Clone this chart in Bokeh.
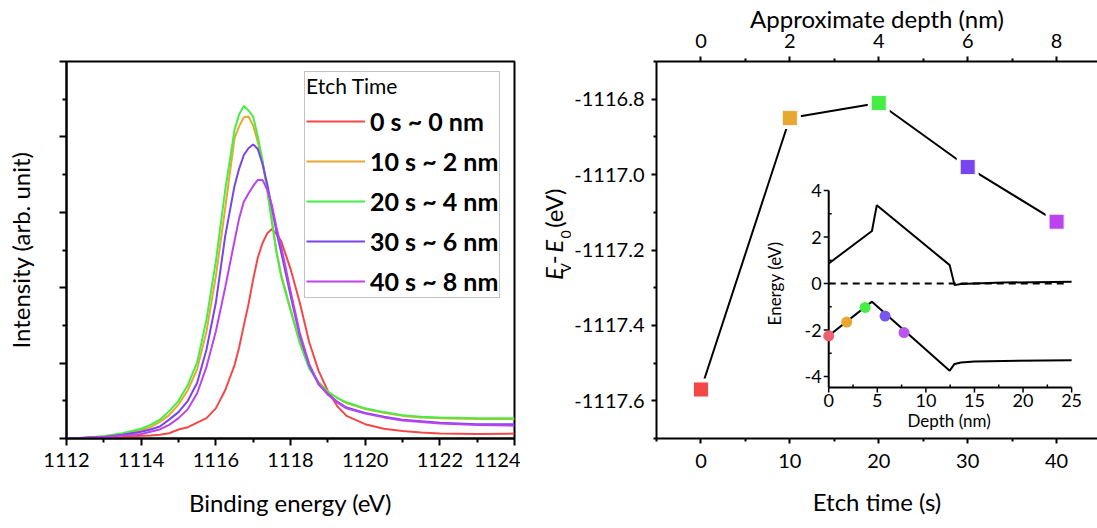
import math
from bokeh.plotting import figure
from bokeh.models import (Range1d, LinearAxis, FixedTicker, Legend, LegendItem,
                          CustomJSTickFormatter)
from bokeh.layouts import row
from bokeh.embed import file_html
from bokeh.resources import INLINE
from bokeh.core.properties import value

FONT = "Lato"

# ---------------- data: XPS spectra (left) ----------------
energy = [1112, 1112.5, 1113, 1113.5, 1114, 1114.25, 1114.5, 1114.75, 1115, 1115.25,
          1115.5, 1115.75, 1116, 1116.25, 1116.5, 1116.625, 1116.75, 1116.875, 1117, 1117.125,
          1117.25, 1117.375, 1117.5, 1117.625, 1117.75, 1118, 1118.25, 1118.5, 1118.75, 1119,
          1119.25, 1119.5, 1120, 1120.5, 1121, 1121.5, 1122, 1123, 1124]
int_0s = [0.00, 0.005, 0.01, 0.02, 0.035, 0.04, 0.05, 0.07, 0.12, 0.15,
          0.21, 0.27, 0.40, 0.64, 0.97, 1.21, 1.50, 1.78, 2.11, 2.40,
          2.59, 2.72, 2.78, 2.71, 2.62, 2.25, 1.80, 1.28, 0.90, 0.63,
          0.43, 0.30, 0.19, 0.13, 0.10, 0.08, 0.065, 0.06, 0.065]
int_10s = [0.00, 0.01, 0.03, 0.06, 0.11, 0.15, 0.22, 0.31, 0.45, 0.64,
           0.92, 1.42, 2.15, 3.05, 3.98, 4.14, 4.26, 4.27, 4.15, 3.93,
           3.67, 3.32, 2.90, 2.48, 2.17, 1.72, 1.28, 0.95, 0.75, 0.62,
           0.54, 0.47, 0.39, 0.34, 0.30, 0.28, 0.27, 0.26, 0.26]
int_20s = [0.00, 0.01, 0.03, 0.07, 0.13, 0.18, 0.25, 0.36, 0.50, 0.71,
           1.01, 1.58, 2.35, 3.29, 4.09, 4.30, 4.41, 4.35, 4.27, 4.00,
           3.69, 3.29, 2.88, 2.47, 2.15, 1.70, 1.26, 0.93, 0.74, 0.62,
           0.54, 0.48, 0.40, 0.35, 0.31, 0.29, 0.28, 0.27, 0.27]
int_30s = [0.00, 0.01, 0.02, 0.05, 0.09, 0.12, 0.16, 0.25, 0.35, 0.50,
           0.74, 1.18, 1.80, 2.68, 3.35, 3.58, 3.76, 3.85, 3.90, 3.84,
           3.64, 3.38, 3.06, 2.74, 2.47, 1.90, 1.36, 0.97, 0.72, 0.59,
           0.49, 0.41, 0.34, 0.29, 0.25, 0.23, 0.21, 0.19, 0.19]
int_40s = [0.00, 0.01, 0.02, 0.04, 0.06, 0.09, 0.12, 0.18, 0.27, 0.39,
           0.60, 0.95, 1.42, 2.00, 2.62, 2.92, 3.14, 3.25, 3.35, 3.43,
           3.43, 3.30, 3.10, 2.80, 2.55, 1.96, 1.40, 0.99, 0.73, 0.58,
           0.48, 0.40, 0.33, 0.28, 0.24, 0.22, 0.20, 0.18, 0.17]
spectra = [int_0s, int_10s, int_20s, int_30s, int_40s]
legend_labels = ["0 s ~ 0 nm", "10 s ~ 2 nm", "20 s ~ 4 nm", "30 s ~ 6 nm", "40 s ~ 8 nm"]
series_colors = ["#f44848", "#e8a830", "#44ee44", "#7744ee", "#bb44ee"]
energy_ticks = [1112, 1114, 1116, 1118, 1120, 1122, 1124]
energy_minor = [1113, 1115, 1117, 1119, 1121, 1123]
intensity_ticks = [0, 1, 2, 3, 4, 5]
intensity_minor = [0.5, 1.5, 2.5, 3.5, 4.5]

# ---------------- data: valence band edge vs etch time (right) ----------------
etch_time = [0, 10, 20, 30, 40]
ev_minus_e0 = [-1117.57, -1116.85, -1116.81, -1116.98, -1117.125]
time_ticks = [0, 10, 20, 30, 40]
time_minor = [-5, 5, 15, 25, 35]
depth_ticks = [0, 2, 4, 6, 8]
depth_minor = [1, 3, 5, 7]
ev_ticks = [-1117.6, -1117.4, -1117.2, -1117.0, -1116.8]
ev_minor = [-1117.7, -1117.5, -1117.3, -1117.1, -1116.9, -1116.7]

# ---------------- data: inset band diagram ----------------
cb_depth = [0, 4.45, 4.95, 12.45, 12.95, 13.6, 15, 18, 25]
cb_energy = [0.86, 2.26, 3.37, 0.79, -0.07, -0.02, 0.0, 0.04, 0.08]
vb_depth = [0, 4.45, 12.45, 12.95, 13.6, 15, 18, 25]
vb_energy = [-2.25, -0.78, -3.75, -3.46, -3.40, -3.36, -3.33, -3.30]
fermi_depth = [0, 24.5]
fermi_energy = [0, 0]
dot_depth = [0, 1.85, 3.75, 5.8, 7.75]
dot_energy = [-2.25, -1.66, -1.03, -1.40, -2.11]
dot_colors = ["#f06070", "#e8a830", "#44ee44", "#7755ee", "#bb55ee"]
inset_xlim = [0, 25]
inset_ylim = [-4.47, 4]
inset_xticks = [0, 5, 10, 15, 20, 25]
inset_xminor = [2.5, 7.5, 12.5, 17.5, 22.5]
inset_yticks = [-4, -2, 0, 2, 4]
inset_yminor = [-3, -1, 1, 3]

# y-axis title of the right panel: (text, size, style, subscript?)
ytitle_parts = [("E", "24px", "italic", False), ("V", "14px", "normal", True),
                ("-", "24px", "normal", False), ("E", "24px", "italic", False),
                ("0", "14px", "normal", True), ("(eV)", "24px", "normal", False)]


def style_axis(ax, label_size="20px"):
    ax.axis_line_width = 2
    ax.axis_line_color = "black"
    ax.major_tick_line_width = 2
    ax.minor_tick_line_width = 2
    ax.major_tick_line_color = "black"
    ax.minor_tick_line_color = "black"
    ax.major_tick_in = 0
    ax.minor_tick_in = 0
    ax.major_label_text_font = FONT
    ax.major_label_text_font_size = label_size
    ax.major_label_text_color = "black"
    ax.axis_label_text_font = FONT
    ax.axis_label_text_font_size = "24px"
    ax.axis_label_text_font_style = "normal"
    ax.axis_label_text_color = "black"


# ================= left figure =================
P1_W = 520
p1 = figure(width=P1_W, height=528, x_range=Range1d(1112, 1124), y_range=Range1d(0, 5),
            output_backend="svg", toolbar_location=None,
            min_border_left=66, min_border_right=P1_W - 66 - 448, min_border_top=61,
            min_border_bottom=86)
p1.grid.visible = False
p1.outline_line_color = "black"
p1.outline_line_width = 2
p1.outline_line_alpha = 1

xa = p1.xaxis[0]
style_axis(xa)
xa.ticker = FixedTicker(ticks=energy_ticks, minor_ticks=energy_minor)
xa.major_tick_out = 7
xa.minor_tick_out = 4
xa.major_label_standoff = 7
xa.axis_label = "Binding energy (eV)"
xa.axis_label_standoff = 18

ya = p1.yaxis[0]
style_axis(ya)
ya.ticker = FixedTicker(ticks=intensity_ticks, minor_ticks=intensity_minor)
ya.major_tick_out = 7
ya.minor_tick_out = 4
ya.formatter = CustomJSTickFormatter(code="return ''")
ya.major_label_standoff = 0
ya.axis_label = "Intensity (arb. unit)"
ya.axis_label_standoff = 25

items = []
for lab, col, ys in zip(legend_labels, series_colors, spectra):
    r = p1.line(energy, ys, line_color=col, line_width=2)
    items.append(LegendItem(label=lab, renderers=[r]))

legend = Legend(items=items, location=(238, 140), title="Etch Time",
                title_text_font=FONT, title_text_font_size="21px",
                title_text_font_style="normal", title_text_color="black", title_standoff=8,
                label_text_font=FONT, label_text_font_size="25px",
                label_text_font_style="bold", label_text_color="black",
                glyph_width=59, glyph_height=30, label_height=30, spacing=10,
                padding=1, margin=0, label_standoff=5,
                border_line_color="#888888", border_line_width=1.5,
                background_fill_color="white", background_fill_alpha=1)
p1.add_layout(legend)

# ================= middle strip: y-axis title of the right panel =================
MID_L, MID_W = P1_W, 51
pm = figure(width=MID_W, height=528, x_range=Range1d(0, MID_W), y_range=Range1d(0, 528),
            output_backend="svg", toolbar_location=None, x_axis_type=None, y_axis_type=None,
            min_border_left=0, min_border_right=0, min_border_top=0, min_border_bottom=0)
pm.grid.visible = False
pm.outline_line_color = None
part_start_py = [306, 296, 284, 268, 248, 233]   # page y where each piece starts (reading upward)
MAIN_BASE_PX, SUB_BASE_PX = 553, 565
for (txt, fs, st, sub), py in zip(ytitle_parts, part_start_py):
    bx_px = SUB_BASE_PX if sub else MAIN_BASE_PX
    pm.text(x=[bx_px - MID_L], y=[528 - py], text=[txt], angle=math.pi / 2,
            text_align="left", text_baseline="alphabetic", text_font=value(FONT),
            text_font_size=fs, text_font_style=st, text_color="black")

# ================= right figure =================
F_L, F_T, F_W, F_H = 654, 61, 443, 377     # frame geometry in page pixels
P2_L = MID_L + MID_W
X0, X1 = -5, 44.6
p2 = figure(width=1097 - P2_L, height=528, x_range=Range1d(X0, X1),
            y_range=Range1d(-1117.7, -1116.7),
            output_backend="svg", toolbar_location=None,
            min_border_left=F_L - P2_L, min_border_right=0, min_border_top=F_T,
            min_border_bottom=528 - F_T - F_H)
p2.grid.visible = False
p2.outline_line_color = None

bx = p2.xaxis[0]
style_axis(bx)
bx.ticker = FixedTicker(ticks=time_ticks, minor_ticks=time_minor)
bx.major_tick_out = 5
bx.minor_tick_out = 3
bx.major_label_standoff = 10
bx.axis_label = "Etch time (s)"
bx.axis_label_standoff = 16

ly = p2.yaxis[0]
style_axis(ly)
ly.ticker = FixedTicker(ticks=ev_ticks, minor_ticks=ev_minor)
ly.formatter = CustomJSTickFormatter(code="return tick.toFixed(1)")
ly.major_tick_out = 5
ly.minor_tick_out = 3
ly.major_label_standoff = 7

p2.extra_x_ranges = {"depth": Range1d(X0 / 5, X1 / 5)}
top = LinearAxis(x_range_name="depth", axis_label="Approximate depth (nm)",
                 ticker=FixedTicker(ticks=depth_ticks, minor_ticks=depth_minor))
style_axis(top)
top.major_tick_out = 5
top.minor_tick_out = 3
top.major_label_text_line_height = 0.9
top.axis_label_text_line_height = 0.9
top.major_label_standoff = 9
top.axis_label_standoff = -2
p2.add_layout(top, "above")

# main series
p2.line(etch_time, ev_minus_e0, line_color="black", line_width=2)
p2.scatter(etch_time, ev_minus_e0, marker="square", size=22, fill_color="white",
           line_color=None)
p2.scatter(etch_time, ev_minus_e0, marker="square", size=15, fill_color=series_colors,
           line_color="#f4f4f4", line_width=1)

# ---------------- inset (drawn through its own ranges) ----------------
IN_X0_PX, IN_PX_PER_X = 827, 9.76      # page x of depth 0, px per nm
IN_Y0_PX, IN_PX_PER_Y = 283, 23.25     # page y of energy 0, px per eV
ix_start = (F_L - IN_X0_PX) / IN_PX_PER_X
iy_start = -(F_T + F_H - IN_Y0_PX) / IN_PX_PER_Y
p2.extra_x_ranges["ix"] = Range1d(ix_start, ix_start + F_W / IN_PX_PER_X)
p2.extra_y_ranges = {"iy": Range1d(iy_start, iy_start + F_H / IN_PX_PER_Y)}
kw = dict(x_range_name="ix", y_range_name="iy")
dx = 1 / IN_PX_PER_X
dy = 1 / IN_PX_PER_Y

p2.segment(x0=[inset_xlim[0]], y0=[inset_ylim[0]], x1=[inset_xlim[1]], y1=[inset_ylim[0]],
           line_color="black", line_width=2, **kw)
p2.segment(x0=[inset_xlim[0]], y0=[inset_ylim[0]], x1=[inset_xlim[0]], y1=[inset_ylim[1]],
           line_color="black", line_width=2, **kw)
p2.segment(x0=inset_xticks, y0=[inset_ylim[0]] * len(inset_xticks), x1=inset_xticks,
           y1=[inset_ylim[0] - 5 * dy] * len(inset_xticks), line_color="black", line_width=1.5, **kw)
p2.segment(x0=inset_xminor, y0=[inset_ylim[0]] * len(inset_xminor), x1=inset_xminor,
           y1=[inset_ylim[0] + 3 * dy] * len(inset_xminor), line_color="black", line_width=1.5, **kw)
p2.segment(x0=[0] * len(inset_yticks), y0=inset_yticks, x1=[-5 * dx] * len(inset_yticks),
           y1=inset_yticks, line_color="black", line_width=1.5, **kw)
p2.segment(x0=[0] * len(inset_yminor), y0=inset_yminor, x1=[3 * dx] * len(inset_yminor),
           y1=inset_yminor, line_color="black", line_width=1.5, **kw)
p2.text(x=inset_xticks, y=[inset_ylim[0] - 7 * dy] * len(inset_xticks),
        text=[str(v) for v in inset_xticks], text_align="center", text_baseline="top",
        text_font=value(FONT), text_font_size="18px", text_color="black", **kw)
p2.text(x=[-7 * dx] * len(inset_yticks), y=inset_yticks,
        text=[str(v) for v in inset_yticks], text_align="right", text_baseline="middle",
        text_font=value(FONT), text_font_size="18px", text_color="black", **kw)
p2.text(x=[(773 - IN_X0_PX) * dx], y=[(IN_Y0_PX - 283) * dy], text=["Energy (eV)"],
        angle=math.pi / 2, text_align="center", text_baseline="middle",
        text_font=value(FONT), text_font_size="17px", text_color="black", **kw)
p2.text(x=[(948 - IN_X0_PX) * dx], y=[(IN_Y0_PX - 420) * dy], text=["Depth (nm)"],
        text_align="center", text_baseline="middle",
        text_font=value(FONT), text_font_size="17px", text_color="black", **kw)
p2.line(fermi_depth, fermi_energy, line_color="black", line_width=2, line_dash="7 5", **kw)
p2.line(cb_depth, cb_energy, line_color="black", line_width=2, **kw)
p2.line(vb_depth, vb_energy, line_color="black", line_width=2, **kw)
p2.scatter(dot_depth, dot_energy, marker="circle", size=11, fill_color=dot_colors,
           line_color=None, **kw)

layout = row(p1, pm, p2)
open("out.html", "w").write(file_html(layout, INLINE))
